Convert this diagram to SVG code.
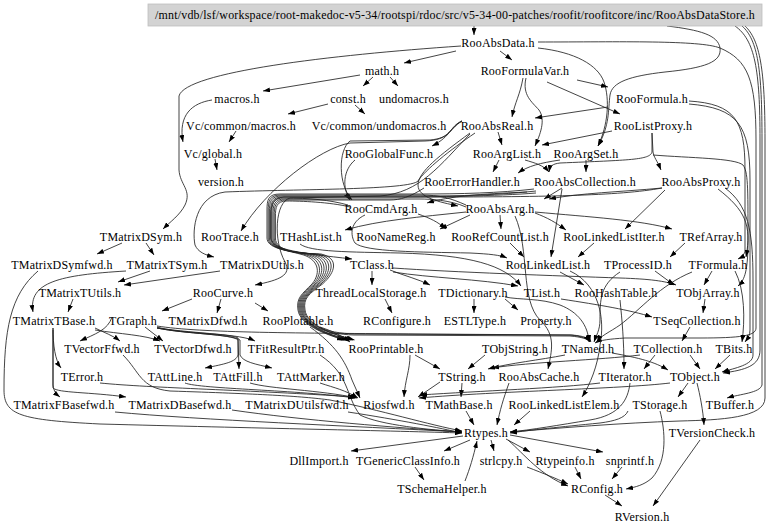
<svg xmlns="http://www.w3.org/2000/svg" width="768" height="532" viewBox="0 0 768 532">
<defs>
<marker id="a" markerWidth="7" markerHeight="5" refX="7" refY="2.5" orient="auto" markerUnits="userSpaceOnUse"><path d="M0,0 L7,2.5 L0,5 z" fill="#000"/></marker>
<style>
.t{font-family:"Liberation Serif","Times New Roman",serif;font-size:12px;letter-spacing:0.2px;text-anchor:middle;fill:#000}
#edges path{fill:none;stroke:#222;stroke-width:0.85;marker-end:url(#a)}
</style>
</defs>
<rect width="768" height="532" fill="#fff"/>
<g id="edges">
<path d="M474,26 L474,35"/>
<path d="M667,26 C700,30 718,35 720,48 C722,62 705,68 665,72 C630,76 612,82 610,95 C608,110 610,125 598,146"/>
<path d="M538,48 C575,52 598,65 604,82 C610,100 608,125 598,146"/>
<path d="M456,51 L404,63"/>
<path d="M500,51 L512,60"/>
<path d="M461,46 C330,55 185,72 179,96 L179,170 C180,185 192,190 185,205 C180,215 170,222 163,229"/>
<path d="M538,42 C620,42 700,40 720,48 C748,60 756,80 756,140 L756,328 C756,336 740,338 700,338 L625,338 C610,339 600,340 595,343"/>
<path d="M745,26 C760,40 765,70 765,140 L765,398 C765,418 720,420 680,421 C620,423 560,428 510,432"/>
<path d="M735,26 C755,40 760,70 760,140 L760,350 C760,366 745,370 723,373"/>
<path d="M742,26 C758,40 762,70 762,140 L762,385 C760,393 740,394 727,398"/>
<path d="M360,75 L263,91"/>
<path d="M373,77 L363,86"/>
<path d="M390,77 L398,86"/>
<path d="M328,104 L288,114"/>
<path d="M355,105 L365,114"/>
<path d="M212,100 C192,103 178,115 183,142"/>
<path d="M236,131 L229,142"/>
<path d="M215,159 L217,170"/>
<path d="M523,78 C520,95 515,102 512,117"/>
<path d="M577,80 L608,87"/>
<path d="M547,82 L620,114"/>
<path d="M526,78 C522,95 532,102 539,110 C546,120 540,135 535,146"/>
<path d="M608,107 L535,118"/>
<path d="M612,131 L542,145"/>
<path d="M498,132 L502,145"/>
<path d="M652,133 L653,152 C654,158 657,160 661,170"/>
<path d="M652,133 L652,152 C650,160 630,160 560,163 C552,164 550,166 549,172"/>
<path d="M653,155 C690,158 735,158 743,165 C748,172 748,185 748,240 C748,270 745,280 738,286"/>
<path d="M689,101 C735,104 745,120 745,170 L745,250 C745,254 742,257 738,259"/>
<path d="M689,104 C738,108 750,125 750,180 L750,330 C750,335 748,338 745,342"/>
<path d="M525,160 C535,163 543,165 549,172"/>
<path d="M560,160 C540,163 528,166 518,173"/>
<path d="M499,160 L493,172"/>
<path d="M586,160 L586,172"/>
<path d="M462,121 C450,126 452,136 432,146"/>
<path d="M462,121 C448,128 452,138 430,140 L350,141 C338,150 338,185 352,200"/>
<path d="M355,160 C343,170 342,188 350,200"/>
<path d="M462,121 C448,130 450,140 425,141 L350,143 C320,148 265,190 241,231"/>
<path d="M475,133 C450,150 425,170 418,181 C410,190 300,189 225,192 C195,196 192,230 195,245 C198,252 205,255 214,257"/>
<path d="M470,133 C440,155 418,172 418,185 C418,198 440,202 458,206"/>
<path d="M470,134 C440,165 420,193 380,196 L290,198 C275,202 273,240 285,262 C292,275 280,280 255,285"/>
<path d="M562,188 L544,199"/>
<path d="M662,188 C620,192 580,193 549,199"/>
<path d="M527,192 C480,194 450,196 427,203"/>
<path d="M562,189 L551,257"/>
<path d="M665,190 L625,229"/>
<path d="M500,215 L501,229"/>
<path d="M535,213 C548,218 555,222 566,230"/>
<path d="M535,212 C590,217 640,220 672,229"/>
<path d="M470,215 L440,229"/>
<path d="M466,212 C420,217 380,220 345,230"/>
<path d="M365,215 C350,222 350,235 355,243 C365,252 420,252 470,253 C490,254 500,255 507,258"/>
<path d="M418,214 C430,218 438,222 446,229"/>
<path d="M510,243 L524,257"/>
<path d="M594,243 L578,257"/>
<path d="M685,243 L670,257"/>
<path d="M718,189 C745,210 752,225 746,257"/>
<path d="M725,188 C748,205 753,230 753,280 L753,355 C753,365 735,368 722,372"/>
<path d="M534,189 C500,193 460,194 420,194 L280,194 C268,194 267,200 267,210 L267,238 C267,248 285,250 300,254 C318,258 322,272 312,284 C302,294 296,298 298,310 C300,325 325,334 344,340"/>
<path d="M466,205 C450,198 440,195 420,195 L281,195 C269.2,195 268.2,201 268.2,211 L268.2,238 C268.2,248.5 287,250.5 303,254 C321,258 324,272 313.5,284 C303,294 297,298 299,310 C301,325 326,334 345.5,340"/>
<path d="M536,191 C500,195 460,196 420,196 L282,196 C270.4,196 269.4,202 269.4,212 L269.4,238 C269.4,249 289,251 306,254 C324,258 326,272 315,284 C304,294 298,298 300,310 C302,325 327,334 347,340"/>
<path d="M662,188 C620,196 540,197 420,197 L283,197 C271.6,197 270.6,203 270.6,213 L270.6,238 C270.6,249.5 291,251.5 309,254 C327,258 328,272 316.5,284 C305,294 299,298 301,310 C303,325 328,334 348.5,340"/>
<path d="M348,205 C330,200 310,198 284,198 C272.8,198 271.8,204 271.8,214 L271.8,238 C271.8,250 293,252 312,254 C330,258 330,272 318,284 C306,294 300,298 302,310 C304,325 324,334 354,335 L570,336 C582,337 588,339 590,342"/>
<path d="M466,207 C450,200 430,199 420,199 L285,199 C274,199 273,205 273,215 L273,238 C273,250.5 295,252.5 315,254 C333,258 332,272 319.5,284 C307,294 301,298 303,310 C305,325 325,333 355,334 L572,335 C584,336 589,338 591,342"/>
<path d="M424,188 C410,197 400,200 390,200 L286,200 C275.2,200 274.2,206 274.2,216 L274.2,238 C274.2,251 297,253 318,254 C336,258 334,272 321,284 C308,294 302,298 304,310 C306,325 331,334 353,340"/>
<path d="M350,207 C330,202 300,201 287,201 C276.4,201 275.4,207 275.4,217 L275.4,238 C275.4,251.5 299,253.5 321,254 C339,258 336,272 322.5,284 C309,294 303,298 305,310 C307,325 332,334 354.5,340"/>
<path d="M536,193 C500,196 430,197 400,197 L284,197 C272,198 271,205 271,215 L271,238 C271,250 300,253 352,259"/>
<path d="M300,244 C310,252 350,252 400,253 C470,255 505,265 521,286"/>
<path d="M372,271 L372,285"/>
<path d="M390,270 C405,276 418,279 430,285"/>
<path d="M393,268 C450,272 560,276 620,278 C650,279 665,281 676,285"/>
<path d="M393,272 C430,278 480,279 518,286"/>
<path d="M385,299 L392,313"/>
<path d="M474,299 L474,313"/>
<path d="M505,299 L518,310"/>
<path d="M505,297 C520,300 540,298 560,305 C578,312 588,325 589,342"/>
<path d="M560,272 L584,285"/>
<path d="M570,271 C600,285 605,320 600,345 C598,365 590,385 582,397"/>
<path d="M655,271 L674,285"/>
<path d="M712,271 L704,285"/>
<path d="M735,271 C745,290 745,320 742,342"/>
<path d="M620,272 C600,285 600,300 600,320 C600,330 596,336 594,342"/>
<path d="M692,272 C660,285 640,310 620,325 C610,332 600,336 597,342"/>
<path d="M561,299 C600,305 630,310 652,317"/>
<path d="M705,299 L703,313"/>
<path d="M620,300 C622,320 624,340 624,369"/>
<path d="M690,327 L682,341"/>
<path d="M690,355 L700,369"/>
<path d="M730,355 L715,369"/>
<path d="M655,355 L644,369"/>
<path d="M640,355 C600,360 530,362 492,368"/>
<path d="M612,353 C640,358 655,362 668,370"/>
<path d="M565,355 C540,360 510,363 488,369"/>
<path d="M485,355 L468,369"/>
<path d="M515,216 C530,250 520,300 540,320 C556,335 552,350 548,369"/>
<path d="M415,355 L440,369"/>
<path d="M410,355 C410,370 405,380 404,397"/>
<path d="M320,327 C335,332 342,336 350,342"/>
<path d="M310,327 C335,345 345,360 352,380 L360,398"/>
<path d="M462,383 L461,397"/>
<path d="M440,382 L418,397"/>
<path d="M688,383 L678,397"/>
<path d="M697,383 C700,395 703,410 704,425"/>
<path d="M670,383 C620,389 500,391 419,398"/>
<path d="M600,383 C560,388 480,391 420,395"/>
<path d="M630,383 C628,400 620,415 590,420 C560,425 530,430 510,432"/>
<path d="M509,383 C503,400 500,410 497,425"/>
<path d="M530,411 L514,425"/>
<path d="M466,411 L474,425"/>
<path d="M628,411 C625,418 615,421 600,423 C560,427 530,430 510,433"/>
<path d="M700,440 L653,506"/>
<path d="M660,411 C665,430 668,460 652,478 C644,485 636,487 626,489"/>
<path d="M463,436 L351,451"/>
<path d="M470,440 L444,451"/>
<path d="M491,440 L494,451"/>
<path d="M506,439 L530,452"/>
<path d="M510,435 L603,452"/>
<path d="M508,440 C525,455 540,475 568,486"/>
<path d="M527,467 C545,474 555,478 568,484"/>
<path d="M575,467 L581,479"/>
<path d="M622,467 L612,479"/>
<path d="M605,495 L622,506"/>
<path d="M415,467 L424,480"/>
<path d="M465,481 C470,468 473,458 477,441"/>
<path d="M122,243 L97,254"/>
<path d="M146,243 L154,255"/>
<path d="M150,271 L118,282"/>
<path d="M220,271 L124,285"/>
<path d="M126,271 C60,275 28,282 33,312"/>
<path d="M73,299 L68,312"/>
<path d="M38,271 C10,295 4,330 4,390 C4,415 20,420 100,424 C250,428 400,431 462,433"/>
<path d="M221,299 L217,313"/>
<path d="M192,299 L162,311"/>
<path d="M255,303 L268,311"/>
<path d="M53,328 C53,345 55,360 61,368"/>
<path d="M53,328 L53,385 C54,392 56,394 60,397"/>
<path d="M53,330 L53,388 C58,393 90,392 126,397"/>
<path d="M95,328 C105,333 112,335 120,341"/>
<path d="M95,330 C120,334 145,335 160,341"/>
<path d="M112,317 C108,330 95,334 80,341"/>
<path d="M145,327 L163,341"/>
<path d="M157,327 C180,334 230,333 238,338 L239,369"/>
<path d="M157,328 C185,334 232,334 238,340 L238,355 C236,362 225,364 205,368"/>
<path d="M157,328 C185,334 232,334 240,340 L240,355 C243,362 255,364 272,368"/>
<path d="M157,328 C200,334 240,334 255,341"/>
<path d="M157,326 C200,333 300,333 420,334 L570,335 C582,336 588,339 590,342"/>
<path d="M320,355 C350,375 345,395 360,415 C380,425 430,430 462,432"/>
<path d="M100,383 C150,388 250,390 355,397"/>
<path d="M185,383 C200,389 300,390 355,398"/>
<path d="M250,383 C270,389 320,390 357,398"/>
<path d="M320,383 C335,388 345,390 358,398"/>
<path d="M123,355 C140,372 140,388 170,391 C260,394 300,396 330,400 C380,410 430,425 462,431"/>
<path d="M115,412 C200,420 350,426 462,432"/>
<path d="M232,410 C300,420 400,428 462,432"/>
<path d="M348,412 C400,420 440,428 462,433"/>
</g>
<g id="n_title"><rect x="148" y="4" width="614" height="22" fill="#d3d3d3" stroke="#bfbfbf" stroke-width="0.8"/><text class="t" x="455" y="19" textLength="600" lengthAdjust="spacingAndGlyphs">/mnt/vdb/lsf/workspace/root-makedoc-v5-34/rootspi/rdoc/src/v5-34-00-patches/roofit/roofitcore/inc/RooAbsDataStore.h</text></g>
<g id="n_RooAbsData"><text class="t" x="498" y="47">RooAbsData.h</text></g>
<g id="n_math"><text class="t" x="382" y="75">math.h</text></g>
<g id="n_RooFormulaVar"><text class="t" x="525" y="75">RooFormulaVar.h</text></g>
<g id="n_macros"><text class="t" x="237" y="103">macros.h</text></g>
<g id="n_const"><text class="t" x="348" y="103">const.h</text></g>
<g id="n_undomacros"><text class="t" x="414" y="103">undomacros.h</text></g>
<g id="n_RooFormula"><text class="t" x="652" y="103">RooFormula.h</text></g>
<g id="n_VcMacros"><text class="t" x="241" y="130">Vc/common/macros.h</text></g>
<g id="n_VcUndomacros"><text class="t" x="379" y="130">Vc/common/undomacros.h</text></g>
<g id="n_RooAbsReal"><text class="t" x="497" y="130">RooAbsReal.h</text></g>
<g id="n_RooListProxy"><text class="t" x="653" y="130">RooListProxy.h</text></g>
<g id="n_VcGlobal"><text class="t" x="213" y="158">Vc/global.h</text></g>
<g id="n_RooGlobalFunc"><text class="t" x="389" y="158">RooGlobalFunc.h</text></g>
<g id="n_RooArgList"><text class="t" x="507" y="158">RooArgList.h</text></g>
<g id="n_RooArgSet"><text class="t" x="586" y="158">RooArgSet.h</text></g>
<g id="n_version"><text class="t" x="221" y="186">version.h</text></g>
<g id="n_RooErrorHandler"><text class="t" x="472" y="186">RooErrorHandler.h</text></g>
<g id="n_RooAbsCollection"><text class="t" x="585" y="186">RooAbsCollection.h</text></g>
<g id="n_RooAbsProxy"><text class="t" x="701" y="186">RooAbsProxy.h</text></g>
<g id="n_RooCmdArg"><text class="t" x="381" y="213">RooCmdArg.h</text></g>
<g id="n_RooAbsArg"><text class="t" x="500" y="213">RooAbsArg.h</text></g>
<g id="n_TMatrixDSym"><text class="t" x="141" y="241">TMatrixDSym.h</text></g>
<g id="n_RooTrace"><text class="t" x="230" y="241">RooTrace.h</text></g>
<g id="n_THashList"><text class="t" x="311" y="241">THashList.h</text></g>
<g id="n_RooNameReg"><text class="t" x="396" y="241">RooNameReg.h</text></g>
<g id="n_RooRefCountList"><text class="t" x="500" y="241">RooRefCountList.h</text></g>
<g id="n_RooLinkedListIter"><text class="t" x="614" y="241">RooLinkedListIter.h</text></g>
<g id="n_TRefArray"><text class="t" x="711" y="241">TRefArray.h</text></g>
<g id="n_TMatrixDSymfwd"><text class="t" x="62" y="269">TMatrixDSymfwd.h</text></g>
<g id="n_TMatrixTSym"><text class="t" x="167" y="269">TMatrixTSym.h</text></g>
<g id="n_TMatrixDUtils"><text class="t" x="262" y="269">TMatrixDUtils.h</text></g>
<g id="n_TClass"><text class="t" x="372" y="269">TClass.h</text></g>
<g id="n_RooLinkedList"><text class="t" x="548" y="269">RooLinkedList.h</text></g>
<g id="n_TProcessID"><text class="t" x="638" y="269">TProcessID.h</text></g>
<g id="n_TFormula"><text class="t" x="718" y="269">TFormula.h</text></g>
<g id="n_TMatrixTUtils"><text class="t" x="80" y="297">TMatrixTUtils.h</text></g>
<g id="n_RooCurve"><text class="t" x="223" y="297">RooCurve.h</text></g>
<g id="n_ThreadLocalStorage"><text class="t" x="371" y="297">ThreadLocalStorage.h</text></g>
<g id="n_TDictionary"><text class="t" x="473" y="297">TDictionary.h</text></g>
<g id="n_TList"><text class="t" x="542" y="297">TList.h</text></g>
<g id="n_RooHashTable"><text class="t" x="616" y="297">RooHashTable.h</text></g>
<g id="n_TObjArray"><text class="t" x="708" y="297">TObjArray.h</text></g>
<g id="n_TMatrixTBase"><text class="t" x="54" y="325">TMatrixTBase.h</text></g>
<g id="n_TGraph"><text class="t" x="133" y="325">TGraph.h</text></g>
<g id="n_TMatrixDfwd"><text class="t" x="208" y="325">TMatrixDfwd.h</text></g>
<g id="n_RooPlotable"><text class="t" x="298" y="325">RooPlotable.h</text></g>
<g id="n_RConfigure"><text class="t" x="397" y="325">RConfigure.h</text></g>
<g id="n_ESTLType"><text class="t" x="475" y="325">ESTLType.h</text></g>
<g id="n_Property"><text class="t" x="546" y="325">Property.h</text></g>
<g id="n_TSeqCollection"><text class="t" x="697" y="325">TSeqCollection.h</text></g>
<g id="n_TVectorFfwd"><text class="t" x="102" y="353">TVectorFfwd.h</text></g>
<g id="n_TVectorDfwd"><text class="t" x="193" y="353">TVectorDfwd.h</text></g>
<g id="n_TFitResultPtr"><text class="t" x="286" y="353">TFitResultPtr.h</text></g>
<g id="n_RooPrintable"><text class="t" x="386" y="353">RooPrintable.h</text></g>
<g id="n_TObjString"><text class="t" x="515" y="353">TObjString.h</text></g>
<g id="n_TNamed"><text class="t" x="588" y="353">TNamed.h</text></g>
<g id="n_TCollection"><text class="t" x="668" y="353">TCollection.h</text></g>
<g id="n_TBits"><text class="t" x="734" y="353">TBits.h</text></g>
<g id="n_TError"><text class="t" x="82" y="381">TError.h</text></g>
<g id="n_TAttLine"><text class="t" x="175" y="381">TAttLine.h</text></g>
<g id="n_TAttFill"><text class="t" x="238" y="381">TAttFill.h</text></g>
<g id="n_TAttMarker"><text class="t" x="311" y="381">TAttMarker.h</text></g>
<g id="n_TString"><text class="t" x="462" y="381">TString.h</text></g>
<g id="n_RooAbsCache"><text class="t" x="539" y="381">RooAbsCache.h</text></g>
<g id="n_TIterator"><text class="t" x="625" y="381">TIterator.h</text></g>
<g id="n_TObject"><text class="t" x="695" y="381">TObject.h</text></g>
<g id="n_TMatrixFBasefwd"><text class="t" x="64" y="409">TMatrixFBasefwd.h</text></g>
<g id="n_TMatrixDBasefwd"><text class="t" x="180" y="409">TMatrixDBasefwd.h</text></g>
<g id="n_TMatrixDUtilsfwd"><text class="t" x="297" y="409">TMatrixDUtilsfwd.h</text></g>
<g id="n_Riosfwd"><text class="t" x="389" y="409">Riosfwd.h</text></g>
<g id="n_TMathBase"><text class="t" x="459" y="409">TMathBase.h</text></g>
<g id="n_RooLinkedListElem"><text class="t" x="564" y="409">RooLinkedListElem.h</text></g>
<g id="n_TStorage"><text class="t" x="660" y="409">TStorage.h</text></g>
<g id="n_TBuffer"><text class="t" x="730" y="409">TBuffer.h</text></g>
<g id="n_Rtypes"><text class="t" x="486" y="437">Rtypes.h</text></g>
<g id="n_TVersionCheck"><text class="t" x="712" y="437">TVersionCheck.h</text></g>
<g id="n_DllImport"><text class="t" x="319" y="465">DllImport.h</text></g>
<g id="n_TGenericClassInfo"><text class="t" x="408" y="465">TGenericClassInfo.h</text></g>
<g id="n_strlcpy"><text class="t" x="501" y="465">strlcpy.h</text></g>
<g id="n_Rtypeinfo"><text class="t" x="565" y="465">Rtypeinfo.h</text></g>
<g id="n_snprintf"><text class="t" x="630" y="465">snprintf.h</text></g>
<g id="n_TSchemaHelper"><text class="t" x="442" y="493">TSchemaHelper.h</text></g>
<g id="n_RConfig"><text class="t" x="597" y="493">RConfig.h</text></g>
<g id="n_RVersion"><text class="t" x="642" y="521">RVersion.h</text></g>
</svg>
